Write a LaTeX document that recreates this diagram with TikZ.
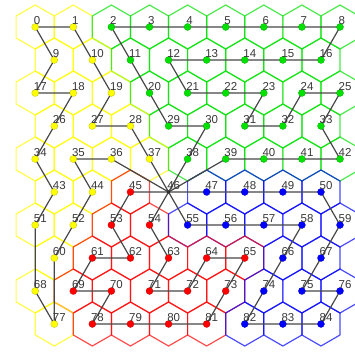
\documentclass[tikz,border=0pt]{standalone}
\usepackage{fontspec}
\setmainfont{Liberation Sans}
\usepackage{tikz}

\definecolor{hy}{RGB}{255,255,0}
\definecolor{hg}{RGB}{0,225,0}
\definecolor{hr}{RGB}{255,0,0}
\definecolor{hb}{RGB}{0,0,255}
\definecolor{hk}{RGB}{50,50,50}

% 行番号/左端のx/先頭番号/各セルの色
\newcommand{\hexrows}{
  0/35.2/0/{hy,hy,hg,hg,hg,hg,hg,hg,hg},
  1/54.25/9/{hy,hy,hg,hg,hg,hg,hg,hg},
  2/35.2/17/{hy,hy,hy,hg,hg,hg,hg,hg,hg},
  3/54.25/26/{hy,hy,hy,hg,hg,hg,hg,hg},
  4/35.2/34/{hy,hy,hy,hy,hg,hg,hg,hg,hg},
  5/54.25/43/{hy,hy,hr,hk,hb,hb,hb,hb},
  6/35.2/51/{hy,hy,hr,hr,hb,hb,hb,hb,hb},
  7/54.25/60/{hy,hr,hr,hr,hr,hr,hb,hb},
  8/35.2/68/{hy,hr,hr,hr,hr,hr,hb,hb,hb},
  9/54.25/77/{hy,hr,hr,hr,hr,hb,hb,hb}}

\begin{document}
\begin{tikzpicture}[x=1pt,y=-1pt,
  hexline/.style={line width=1.2pt,draw opacity=0.7,line join=round},
  pathline/.style={line width=1.2pt,black!72},
  vdot/.style={circle,inner sep=0pt,minimum size=7pt,fill=#1,draw=#1!75!black,line width=0.3pt},
  lbl/.style={anchor=south west,inner sep=0pt,font=\fontsize{11.5}{12}\selectfont,text=black!78}]
  \useasboundingbox (0,0) rectangle (355,352); % 画像の大きさ
  \clip (0,0) rectangle (355,352); % 右端の六角形を切る
  % セルの中心と六角形
  \foreach \r/\xs/\first/\cols in \hexrows {
    \foreach \k [count=\c from 0] in \cols {
      \pgfmathtruncatemacro{\idx}{\first+\c}
      \coordinate (v\idx) at (\xs+38.1*\c,27+33*\r);
      \ifnum\idx=46\else
        \draw[hexline,\k] (v\idx) +(30:22) -- +(90:22) -- +(150:22) -- +(210:22) -- +(270:22) -- +(330:22) -- cycle;
      \fi
    }
  }
  \draw[pathline] (v46) -- (v36) -- (v35) -- (v44) -- (v52) -- (v60) -- (v77) -- (v68) -- (v51) -- (v43) -- (v34) -- (v26) -- (v18) -- (v17) -- (v9) -- (v0) -- (v1) -- (v19) -- (v27) -- (v28) -- (v46); % 黄色の経路
  \draw[pathline] (v46) -- (v38) -- (v30) -- (v29) -- (v20) -- (v2) -- (v3) -- (v4) -- (v5) -- (v6) -- (v7) -- (v8) -- (v16) -- (v15) -- (v14) -- (v13) -- (v12) -- (v21) -- (v22) -- (v23) -- (v31) -- (v32) -- (v24) -- (v25) -- (v33) -- (v42) -- (v41) -- (v40) -- (v39) -- (v46); % 緑の経路
  \draw[pathline] (v46) -- (v45) -- (v53) -- (v62) -- (v61) -- (v69) -- (v70) -- (v78) -- (v79) -- (v80) -- (v81) -- (v73) -- (v65) -- (v64) -- (v72) -- (v71) -- (v63) -- (v54) -- (v46); % 赤の経路
  \draw[pathline] (v46) -- (v47) -- (v48) -- (v49) -- (v50) -- (v59) -- (v67) -- (v75) -- (v76) -- (v84) -- (v83) -- (v82) -- (v74) -- (v66) -- (v58) -- (v57) -- (v56) -- (v55) -- (v46); % 青の経路
  % 点と番号
  \foreach \r/\xs/\first/\cols in \hexrows {
    \foreach \k [count=\c from 0] in \cols {
      \pgfmathtruncatemacro{\idx}{\first+\c}
      \ifnum\idx=46
        \node[vdot=\k,minimum size=3pt] (d\idx) at (v\idx) {};
      \else
        \node[vdot=\k] (d\idx) at (v\idx) {};
      \fi
      \node[lbl] (t\idx) at ([xshift=-1.5pt,yshift=2.5pt]v\idx) {\idx};
    }
  }
\end{tikzpicture}
\end{document}
